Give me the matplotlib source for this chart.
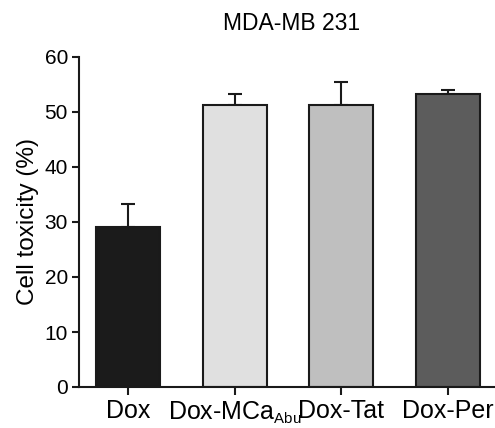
import matplotlib
matplotlib.use("Agg")
import matplotlib.pyplot as plt
import numpy as np

try:
    import matplotlib._mathtext as _mt
    _mt.SHRINK_FACTOR = 0.6
except Exception:
    pass

categories = ["Dox", "Dox-MCa$_{Abu}$", "Dox-Tat", "Dox-Per"]
values = [29.1, 51.2, 51.2, 53.3]
errors = [4.2, 2.1, 4.3, 0.7]
colors = ["#1b1b1b", "#e0e0e0", "#bfbfbf", "#5c5c5c"]
yticks = [0, 10, 20, 30, 40, 50, 60]

plt.rcParams['font.family'] = ['Liberation Sans', 'DejaVu Sans']
plt.rcParams['mathtext.default'] = 'regular'

fig = plt.figure(figsize=(4.95, 4.28), dpi=100)
ax = fig.add_axes([79/495, 1-387/428, 1-79/495, (387-57)/428])

x = np.arange(len(categories))
ax.bar(x, values, width=0.6, color=colors, edgecolor="#1a1a1a", linewidth=1.5, zorder=2)
ax.errorbar(x, values, yerr=[np.zeros(len(errors)), errors], fmt='none', ecolor="#1a1a1a",
            elinewidth=1.5, capsize=5, capthick=1.5, zorder=1)

ax.set_xlim(-0.46, 3.44)
ax.set_ylim(0, 60)
ax.set_yticks(yticks)
ax.set_xticks(x)
ax.set_xticklabels(categories, fontsize=18)
ax.tick_params(axis='y', labelsize=15, width=1.5, length=5, color="#1a1a1a", pad=3)
ax.tick_params(axis='x', width=1.5, length=6, color="#1a1a1a", pad=3)
for s in ["top", "right"]:
    ax.spines[s].set_visible(False)
for s in ["left", "bottom"]:
    ax.spines[s].set_linewidth(1.5)
    ax.spines[s].set_color("#1a1a1a")
ax.set_ylabel("Cell toxicity (%)", fontsize=17.5, labelpad=4)
fig.text(0.589, 1-24/428, "MDA-MB 231", ha='center', va='center', fontsize=16.5)

fig.savefig("out.png", dpi=100)
